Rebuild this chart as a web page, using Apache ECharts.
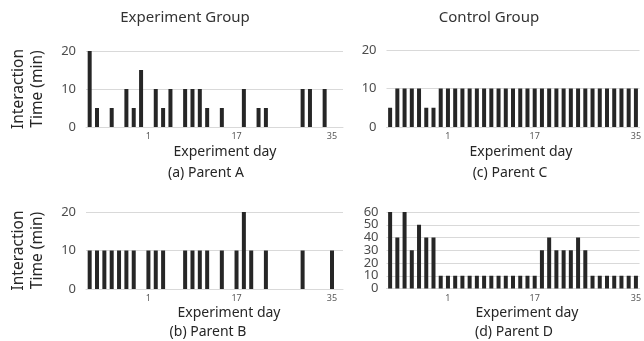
<!DOCTYPE html>
<html>
<head>
<meta charset="utf-8">
<script src="https://cdn.jsdelivr.net/npm/echarts@6/dist/echarts.min.js"></script>
<style>html,body{margin:0;padding:0;background:#fff}#c{width:644px;height:341px}</style>
</head>
<body>
<div id="c"></div>
<script>
const days = [1,2,3,4,5,6,7,8,9,10,11,12,13,14,15,16,17,18,19,20,21,22,23,24,25,26,27,28,29,30,31,32,33,34,35];
const parentA = [20,5,0,5,0,10,5,15,0,10,5,10,0,10,10,10,5,0,5,0,0,10,0,5,5,0,0,0,0,10,10,0,10,0,0];
const parentB = [10,10,10,10,10,10,10,0,10,10,10,0,0,10,10,10,10,0,10,0,10,20,10,0,10,0,0,0,0,10,0,0,0,10,0];
const parentC = [5,10,10,10,10,5,5,10,10,10,10,10,10,10,10,10,10,10,10,10,10,10,10,10,10,10,10,10,10,10,10,10,10,10,10];
const parentD = [60,40,60,30,50,40,40,10,10,10,10,10,10,10,10,10,10,10,10,10,10,30,40,30,30,30,40,30,10,10,10,10,10,10,10];
const xTickLabels = ['1','17','35'];
const xTickSlotsLeft = [8,20,33];
const xTickSlotsRight = [8,20,34];
const yTicksSmall = [0,10,20];
const yTicksD = [0,10,20,30,40,50,60];
const yStep = 10;
const panelCaptions = ['(a) Parent A','(b) Parent B','(c) Parent C','(d) Parent D'];
const columnTitles = ['Experiment Group','Control Group'];
const xName = 'Experiment day';
const yName = 'Interaction\nTime (min)';

const FONT = '"Noto Sans", "Open Sans", sans-serif';
const grids = [
  {left:86, top:51, width:257, height:76},
  {left:86, top:212, width:257, height:77},
  {left:386.5, top:50, width:257, height:77},
  {left:386.5, top:212, width:257, height:76.5}
];
const datas = [parentA, parentB, parentC, parentD];
const slots = [xTickSlotsLeft, xTickSlotsLeft, xTickSlotsRight, xTickSlotsRight];
const tickSets = [yTicksSmall, yTicksSmall, yTicksSmall, yTicksD];

const xAxes = grids.map((g,i)=>({
  type:'category', gridIndex:i, data:days,
  axisLine:{show:true, lineStyle:{color:'#d9d9d9'}},
  axisTick:{show:false},
  axisLabel:{interval:0, margin:5, fontSize:9, color:'#595959', fontFamily:FONT, hideOverlap:false,
    formatter:(v,idx)=>{const k=slots[i].indexOf(idx); return k>=0?xTickLabels[k]:'';}}
}));
const labelStyle = (i)=>({fontSize:13, color:'#4d4d4d', margin: i===3?8:10, fontFamily:FONT});
const yAxes = grids.map((g,i)=>{
  const t = tickSets[i];
  const shown = i===3 ? t.filter((v,k)=>k!==1 && k!==t.length-2) : t;
  return {
    type:'value', gridIndex:i, min:t[0], max:t[t.length-1], interval:yStep,
    name: i<2 ? yName : '', nameLocation:'middle', nameRotate:90, nameGap:39,
    nameTextStyle:{fontSize:15.5, color:'#262626', fontFamily:FONT, lineHeight:19},
    axisLine:{show:false}, axisTick:{show:false},
    axisLabel:Object.assign(labelStyle(i), {customValues:shown, showMinLabel:true, showMaxLabel:true}),
    splitLine:{lineStyle:{color:'#d9d9d9', width:1}}
  };
});
// extra axis on panel D carrying the labels next to the ends (10 and 50)
yAxes.push({
  type:'value', gridIndex:3, position:'left', min:yTicksD[0], max:yTicksD[yTicksD.length-1], interval:yStep,
  axisLine:{show:false}, axisTick:{show:false}, splitLine:{show:false},
  axisLabel:Object.assign(labelStyle(3), {customValues:[yTicksD[1], yTicksD[yTicksD.length-2]], showMinLabel:true, showMaxLabel:true})
});
const series = datas.map((d,i)=>({
  type:'bar', xAxisIndex:i, yAxisIndex:i, data:d, barWidth:4,
  itemStyle:{color:'#262626'}, silent:true, animation:false
}));

const txt = (text,x,y,size,color)=>({type:'text', x:x, y:y,
  style:{text:text, fill:color, font: size+'px '+FONT, textAlign:'center', textVerticalAlign:'middle'}});
const graphic = [
  txt(columnTitles[0],185,18,15,'#333333'),
  txt(columnTitles[1],489,18,15,'#333333'),
  txt(xName,225,152,14,'#262626'),
  txt(xName,229,313,14,'#262626'),
  txt(xName,521,152,14,'#262626'),
  txt(xName,527,313,14,'#262626'),
  txt(panelCaptions[0],206,173,14,'#262626'),
  txt(panelCaptions[1],208,332,14,'#262626'),
  txt(panelCaptions[2],510,173,14,'#262626'),
  txt(panelCaptions[3],514,332,14,'#262626')
];

const chart = echarts.init(document.getElementById('c'), null, {renderer:'canvas'});
chart.setOption({animation:false, grid:grids, xAxis:xAxes, yAxis:yAxes, series:series, graphic:graphic});
</script>
</body>
</html>
